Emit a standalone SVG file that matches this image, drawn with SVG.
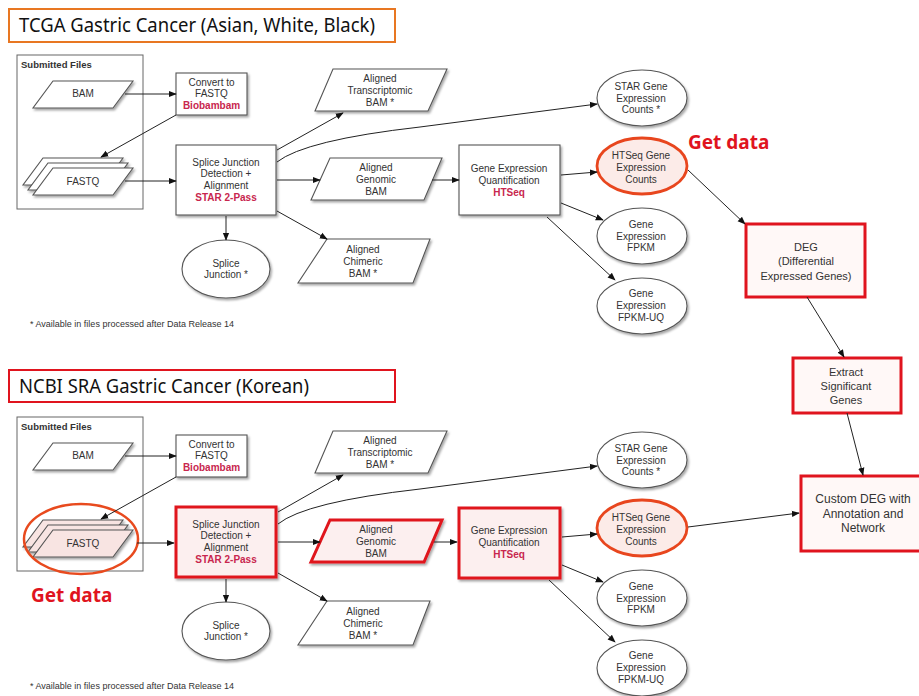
<svg xmlns="http://www.w3.org/2000/svg" width="919" height="696" viewBox="0 0 919 696">
<defs>
<marker id="ah" viewBox="0 0 10 10" refX="9" refY="5" markerWidth="8" markerHeight="8" markerUnits="userSpaceOnUse" orient="auto">
<path d="M0,1 L10,5 L0,9 z" fill="#111"/>
</marker>
<filter id="sh" x="-20%" y="-20%" width="140%" height="150%">
<feDropShadow dx="1.5" dy="2" stdDeviation="1.2" flood-color="#000" flood-opacity="0.35"/>
</filter>
<style>
.box{fill:#fff;stroke:#555;stroke-width:1.1;filter:url(#sh)}
.hl{fill:#fcefef;stroke:#e0141e;stroke-width:3;filter:url(#sh)}
.hto{fill:#fcebe8;stroke:#e8461e;stroke-width:2.8}
.red{fill:#fff8f7;stroke:#e0141e;stroke-width:3}
.frame{fill:none;stroke:#666;stroke-width:1}
.t{font-family:"Liberation Sans",Arial,sans-serif;font-size:10px;fill:#333;text-anchor:middle}
.r{fill:#c8264e;font-weight:bold}
.k{font-family:"Liberation Sans",Arial,sans-serif;font-size:11px;fill:#333;text-anchor:middle}
.kb{font-size:12px}
.title{font-family:"Noto Sans","Noto Sans CJK KR",sans-serif;font-size:19.5px;fill:#111}
.get{font-family:"Noto Sans","Liberation Sans",sans-serif;font-size:19px;font-weight:bold;fill:#e0141e}
.note{font-family:"Liberation Sans",Arial,sans-serif;font-size:9px;fill:#333}
.sf{font-family:"Liberation Sans",Arial,sans-serif;font-size:9.5px;font-weight:bold;fill:#333}
.e{stroke:#222;stroke-width:1;fill:none;marker-end:url(#ah)}
</style>
</defs>
<rect width="919" height="696" fill="#fff"/>

<!-- ================= TCGA section ================= -->
<g id="tcga">
<g id="tcga-title"><rect x="9" y="9" width="386" height="33" fill="#fff" stroke="#e87722" stroke-width="2"/><text class="title" x="19" y="32" textLength="356" lengthAdjust="spacingAndGlyphs">TCGA Gastric Cancer (Asian, White, Black)</text></g>
<g id="tcga-submitted"><rect class="frame" x="17" y="55" width="126" height="154"/><text class="sf" x="21" y="68">Submitted Files</text></g>
<g id="tcga-bam"><polygon class="box" points="53,81 133,81 113,108 33,108"/><text class="t" x="83" y="97">BAM</text></g>
<g id="tcga-fastq"><polygon class="box" points="43,158 123,158 103,185 23,185"/><polygon class="box" points="48,163 128,163 108,190 28,190"/><polygon class="box" points="53,168 133,168 113,195 33,195"/><text class="t" x="83" y="185">FASTQ</text></g>
<g id="tcga-convert"><rect class="box" x="176" y="73" width="71" height="42"/><text class="t" x="211.5" y="85.5">Convert to</text><text class="t" x="211.5" y="97">FASTQ</text><text class="t r" x="211.5" y="109">Biobambam</text></g>
<g id="tcga-star"><rect class="box" x="176" y="145" width="100" height="70"/><text class="t" x="226" y="165.5">Splice Junction</text><text class="t" x="226" y="177">Detection +</text><text class="t" x="226" y="189">Alignment</text><text class="t r" x="226" y="200.5">STAR 2-Pass</text></g>
<g id="tcga-sj"><ellipse class="box" cx="226" cy="269" rx="44" ry="29"/><text class="t" x="226" y="266.5">Splice</text><text class="t" x="226" y="278">Junction *</text></g>
<g id="tcga-tbam"><polygon class="box" points="333,69 447,69 428,111 315,111"/><text class="t" x="380" y="81.5">Aligned</text><text class="t" x="380" y="93.5">Transcriptomic</text><text class="t" x="380" y="105.5">BAM *</text></g>
<g id="tcga-gbam"><polygon class="box" points="330,158 442,158 424,200 311,200"/><text class="t" x="376" y="170.5">Aligned</text><text class="t" x="376" y="182.5">Genomic</text><text class="t" x="376" y="194.5">BAM</text></g>
<g id="tcga-cbam"><polygon class="box" points="327,239 430,239 413,283 298,283"/><text class="t" x="363" y="252.5">Aligned</text><text class="t" x="363" y="264.5">Chimeric</text><text class="t" x="363" y="276.5">BAM *</text></g>
<g id="tcga-htseq"><rect class="box" x="459" y="145" width="101" height="70"/><text class="t" x="509" y="171.5">Gene Expression</text><text class="t" x="509" y="183.5">Quantification</text><text class="t r" x="509" y="195.5">HTSeq</text></g>
<g id="tcga-starcounts"><ellipse class="box" cx="642" cy="98" rx="45" ry="28"/><text class="t" x="641" y="89.5">STAR Gene</text><text class="t" x="641" y="101.5">Expression</text><text class="t" x="641" y="113">Counts *</text></g>
<g id="tcga-htcounts"><ellipse class="hto" cx="642" cy="166" rx="45" ry="28"/><text class="t" x="641" y="158.5">HTSeq Gene</text><text class="t" x="641" y="170.5">Expression</text><text class="t" x="641" y="182.5">Counts</text></g>
<g id="tcga-fpkm"><ellipse class="box" cx="642" cy="236" rx="45" ry="28"/><text class="t" x="641" y="227.5">Gene</text><text class="t" x="641" y="239.5">Expression</text><text class="t" x="641" y="251">FPKM</text></g>
<g id="tcga-fpkmuq"><ellipse class="box" cx="642" cy="306" rx="45" ry="28"/><text class="t" x="641" y="296.5">Gene</text><text class="t" x="641" y="308.5">Expression</text><text class="t" x="641" y="320.5">FPKM-UQ</text></g>
<text id="tcga-get" class="get" x="688" y="149">Get data</text>
<text id="tcga-note" class="note" x="30" y="327">* Available in files processed after Data Release 14</text>
</g>

<!-- ================= SRA section ================= -->
<g id="sra">
<g id="sra-title"><rect x="9" y="370" width="386" height="32" fill="#fff" stroke="#e0141e" stroke-width="2"/><text class="title" x="19" y="393" textLength="290" lengthAdjust="spacingAndGlyphs">NCBI SRA Gastric Cancer (Korean)</text></g>
<g transform="translate(0,362)">
<g id="sra-submitted"><rect class="frame" x="17" y="55" width="126" height="154"/><text class="sf" x="21" y="68">Submitted Files</text></g>
<g id="sra-bam"><polygon class="box" points="53,81 133,81 113,108 33,108"/><text class="t" x="83" y="97">BAM</text></g>
<g id="sra-fastq"><polygon class="box" style="fill:#f8e4e2" points="43,158 123,158 103,185 23,185"/><polygon class="box" style="fill:#f8e4e2" points="48,163 128,163 108,190 28,190"/><polygon class="box" style="fill:#f8e4e2" points="53,168 133,168 113,195 33,195"/><text class="t" x="83" y="185">FASTQ</text><ellipse cx="81" cy="177" rx="57" ry="35" fill="none" stroke="#e84a1e" stroke-width="2.5"/></g>
<g id="sra-convert"><rect class="box" x="176" y="73" width="71" height="42"/><text class="t" x="211.5" y="85.5">Convert to</text><text class="t" x="211.5" y="97">FASTQ</text><text class="t r" x="211.5" y="109">Biobambam</text></g>
<g id="sra-star"><rect class="hl" x="176" y="145" width="100" height="70"/><text class="t" x="226" y="165.5">Splice Junction</text><text class="t" x="226" y="177">Detection +</text><text class="t" x="226" y="189">Alignment</text><text class="t r" x="226" y="200.5">STAR 2-Pass</text></g>
<g id="sra-sj"><ellipse class="box" cx="226" cy="269" rx="44" ry="29"/><text class="t" x="226" y="266.5">Splice</text><text class="t" x="226" y="278">Junction *</text></g>
<g id="sra-tbam"><polygon class="box" points="333,69 447,69 428,111 315,111"/><text class="t" x="380" y="81.5">Aligned</text><text class="t" x="380" y="93.5">Transcriptomic</text><text class="t" x="380" y="105.5">BAM *</text></g>
<g id="sra-gbam"><polygon class="hl" points="330,158 442,158 424,200 311,200"/><text class="t" x="376" y="170.5">Aligned</text><text class="t" x="376" y="182.5">Genomic</text><text class="t" x="376" y="194.5">BAM</text></g>
<g id="sra-cbam"><polygon class="box" points="327,239 430,239 413,283 298,283"/><text class="t" x="363" y="252.5">Aligned</text><text class="t" x="363" y="264.5">Chimeric</text><text class="t" x="363" y="276.5">BAM *</text></g>
<g id="sra-htseq"><rect class="hl" x="459" y="146" width="101" height="70"/><text class="t" x="509" y="171.5">Gene Expression</text><text class="t" x="509" y="183.5">Quantification</text><text class="t r" x="509" y="195.5">HTSeq</text></g>
<g id="sra-starcounts"><ellipse class="box" cx="642" cy="98" rx="45" ry="28"/><text class="t" x="641" y="89.5">STAR Gene</text><text class="t" x="641" y="101.5">Expression</text><text class="t" x="641" y="113">Counts *</text></g>
<g id="sra-htcounts"><ellipse class="hto" cx="642" cy="166" rx="45" ry="28"/><text class="t" x="641" y="158.5">HTSeq Gene</text><text class="t" x="641" y="170.5">Expression</text><text class="t" x="641" y="182.5">Counts</text></g>
<g id="sra-fpkm"><ellipse class="box" cx="642" cy="236" rx="45" ry="28"/><text class="t" x="641" y="227.5">Gene</text><text class="t" x="641" y="239.5">Expression</text><text class="t" x="641" y="251">FPKM</text></g>
<g id="sra-fpkmuq"><ellipse class="box" cx="642" cy="306" rx="45" ry="28"/><text class="t" x="641" y="296.5">Gene</text><text class="t" x="641" y="308.5">Expression</text><text class="t" x="641" y="320.5">FPKM-UQ</text></g>
</g>
<text id="sra-get" class="get" x="31" y="602">Get data</text>
<text id="sra-note" class="note" x="30" y="689">* Available in files processed after Data Release 14</text>
</g>

<!-- ================= Analysis nodes ================= -->
<g id="deg"><rect class="red" x="746" y="224" width="119" height="73"/><text class="k" x="806" y="251">DEG</text><text class="k" x="806" y="265">(Differential</text><text class="k" x="806" y="280">Expressed  Genes)</text></g>
<g id="extract"><rect class="red" x="793" y="358" width="108" height="55"/><text class="k" x="846" y="376">Extract</text><text class="k" x="846" y="390">Significant</text><text class="k" x="846" y="404">Genes</text></g>
<g id="custom"><rect class="red" x="801" y="476" width="125" height="75"/><text class="k kb" x="863" y="503">Custom DEG with</text><text class="k kb" x="863" y="517.5">Annotation  and</text><text class="k kb" x="863" y="532">Network</text></g>

<!-- ================= Connectors ================= -->
<g id="connectors">
<g id="tcga-edges">
<line class="e" x1="125" y1="94" x2="176" y2="94"/>
<line class="e" x1="176" y1="115" x2="101" y2="157"/>
<line class="e" x1="125" y1="181" x2="176" y2="181"/>
<line class="e" x1="226" y1="216" x2="226" y2="240"/>
<line class="e" x1="277" y1="150" x2="343" y2="113"/>
<path class="e" d="M277,162 Q305,140 420,127 L597,104"/>
<line class="e" x1="277" y1="180" x2="320" y2="180"/>
<line class="e" x1="277" y1="211" x2="327" y2="239"/>
<line class="e" x1="432" y1="180" x2="459" y2="180"/>
<line class="e" x1="561" y1="175" x2="597" y2="172"/>
<line class="e" x1="561" y1="203" x2="603" y2="220"/>
<line class="e" x1="547" y1="217" x2="615" y2="280"/>
</g>
<g id="sra-edges" transform="translate(0,362)">
<line class="e" x1="125" y1="94" x2="176" y2="94"/>
<line class="e" x1="176" y1="115" x2="101" y2="157"/>
<line class="e" x1="137" y1="181" x2="174" y2="181"/>
<line class="e" x1="226" y1="217" x2="226" y2="240"/>
<line class="e" x1="278" y1="150" x2="343" y2="113"/>
<path class="e" d="M278,162 Q305,140 420,127 L597,104"/>
<line class="e" x1="278" y1="180" x2="320" y2="180"/>
<line class="e" x1="278" y1="211" x2="327" y2="239"/>
<line class="e" x1="434" y1="180" x2="457" y2="180"/>
<line class="e" x1="562" y1="175" x2="597" y2="172"/>
<line class="e" x1="562" y1="203" x2="603" y2="220"/>
<line class="e" x1="549" y1="218" x2="615" y2="280"/>
</g>
<line class="e" x1="688" y1="170" x2="745" y2="224"/>
<line class="e" x1="807" y1="297" x2="844" y2="357"/>
<line class="e" x1="847" y1="413" x2="863" y2="475"/>
<line class="e" x1="688" y1="527" x2="799" y2="513"/>
</g>
</svg>
